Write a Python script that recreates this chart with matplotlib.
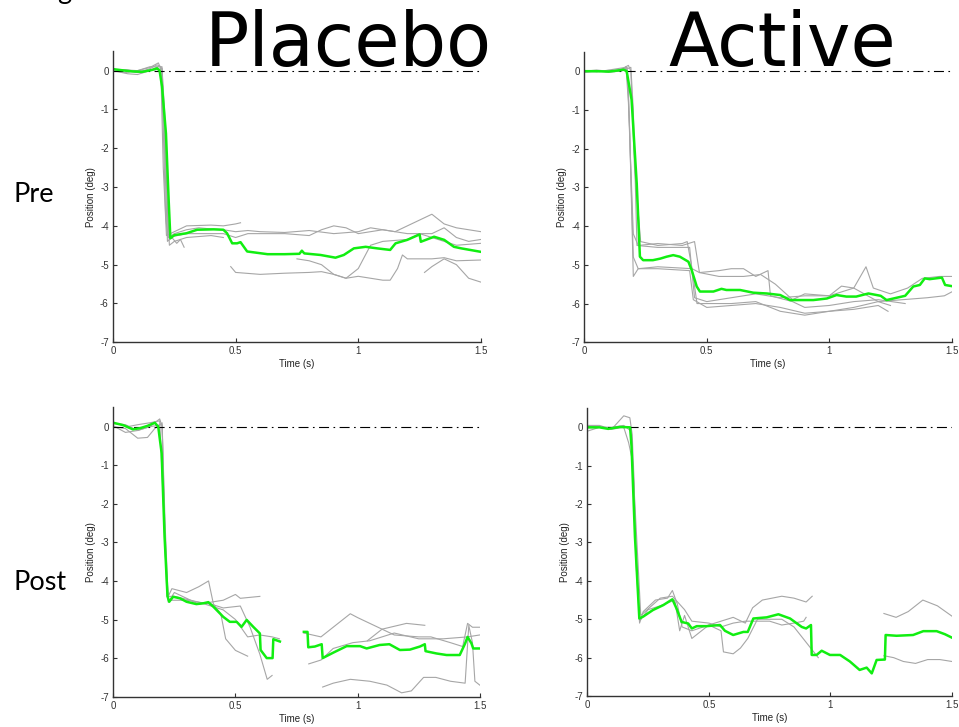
import numpy as np
import matplotlib
matplotlib.use('Agg')
import matplotlib.pyplot as plt

nan = np.nan

# column / row headings
col_titles = ['Placebo', 'Active']
row_titles = ['Pre', 'Post']
x_ticks = [0, 0.5, 1, 1.5]
x_ticklabels = ['0', '0.5', '1', '1.5']
y_ticks = [-7, -6, -5, -4, -3, -2, -1, 0]
y_ticklabels = ['-7', '-6', '-5', '-4', '-3', '-2', '-1', '0']

# mean eye position (time s, position deg)
pre_placebo_mean = [
    (0, 0.04), (0.05, 0.0), (0.08, -0.02), (0.12, -0.03), (0.16, 0.02), (0.18, 0.06),
    (0.19, 0.0), (0.2, -0.41), (0.216, -1.62), (0.227, -3.33), (0.234, -4.32), (0.25, -4.24),
    (0.3, -4.19), (0.343, -4.1), (0.41, -4.09), (0.45, -4.1), (0.465, -4.19), (0.486, -4.45),
    (0.506, -4.45), (0.52, -4.42), (0.547, -4.66), (0.63, -4.73), (0.7, -4.73), (0.76, -4.72),
    (0.77, -4.64), (0.78, -4.71), (0.846, -4.75), (0.907, -4.82), (0.941, -4.75), (0.982, -4.58),
    (1.03, -4.54), (1.077, -4.58), (1.13, -4.62), (1.152, -4.45), (1.2, -4.36), (1.25, -4.22),
    (1.255, -4.41), (1.309, -4.28), (1.35, -4.36), (1.39, -4.54), (1.42, -4.58), (1.5, -4.67)]

pre_active_mean = [
    (0, 0.0), (0.05, 0.0), (0.1, -0.01), (0.14, 0.02), (0.16, 0.04), (0.173, 0.0),
    (0.193, -0.74), (0.214, -2.9), (0.227, -4.79), (0.24, -4.88), (0.28, -4.88), (0.31, -4.84),
    (0.336, -4.79), (0.363, -4.75), (0.39, -4.79), (0.425, -4.92), (0.438, -5.13), (0.459, -5.56),
    (0.472, -5.69), (0.527, -5.69), (0.56, -5.62), (0.58, -5.65), (0.636, -5.65), (0.69, -5.72),
    (0.745, -5.74), (0.8, -5.78), (0.84, -5.91), (0.935, -5.91), (0.99, -5.87), (1.03, -5.78),
    (1.07, -5.82), (1.11, -5.82), (1.16, -5.74), (1.21, -5.8), (1.234, -5.91), (1.31, -5.8),
    (1.343, -5.56), (1.37, -5.52), (1.39, -5.35), (1.41, -5.37), (1.46, -5.33), (1.473, -5.52),
    (1.5, -5.55)]

post_placebo_mean = [
    (0, 0.1), (0.04, 0.04), (0.08, -0.07), (0.11, -0.04), (0.14, 0.02), (0.17, 0.1),
    (0.184, 0.0), (0.198, -0.69), (0.21, -2.85), (0.222, -4.4), (0.229, -4.54), (0.245, -4.41),
    (0.273, -4.45), (0.3, -4.54), (0.34, -4.6), (0.368, -4.58), (0.389, -4.55), (0.41, -4.67),
    (0.43, -4.8), (0.45, -4.93), (0.477, -5.06), (0.505, -5.06), (0.525, -5.19), (0.546, -5.01),
    (0.573, -5.19), (0.6, -5.36), (0.603, -5.79), (0.628, -6.0), (0.652, -6.0), (0.655, -5.51),
    (0.682, -5.57), (0.73, nan), (0.78, -5.32), (0.795, -5.32), (0.798, -5.72), (0.825, -5.7),
    (0.853, -5.64), (0.857, -6.0), (0.9, -5.86), (0.955, -5.69), (1.01, -5.69), (1.037, -5.75),
    (1.09, -5.66), (1.13, -5.64), (1.173, -5.79), (1.214, -5.78), (1.255, -5.7), (1.275, -5.64),
    (1.278, -5.82), (1.323, -5.88), (1.364, -5.92), (1.418, -5.92), (1.44, -5.62), (1.45, -5.45),
    (1.466, -5.62), (1.473, -5.75), (1.5, -5.75)]

post_active_mean = [
    (0, 0.0), (0.05, 0.0), (0.086, -0.04), (0.134, 0.01), (0.176, 0.0), (0.182, -0.5),
    (0.196, -2.85), (0.214, -4.98), (0.23, -4.93), (0.27, -4.76), (0.313, -4.63), (0.35, -4.48),
    (0.367, -4.72), (0.388, -5.07), (0.415, -5.11), (0.43, -5.24), (0.45, -5.18), (0.49, -5.18),
    (0.546, -5.15), (0.566, -5.3), (0.6, -5.41), (0.642, -5.33), (0.66, -5.33), (0.683, -4.98),
    (0.738, -4.95), (0.786, -4.87), (0.834, -4.98), (0.882, -5.2), (0.9, -5.24), (0.92, -5.15),
    (0.923, -5.93), (0.943, -5.93), (0.964, -5.82), (0.998, -5.93), (1.04, -5.93), (1.08, -6.1),
    (1.12, -6.32), (1.149, -6.26), (1.17, -6.41), (1.19, -6.06), (1.224, -6.05), (1.227, -5.41),
    (1.272, -5.43), (1.34, -5.41), (1.382, -5.31), (1.437, -5.31), (1.471, -5.39), (1.5, -5.48)]

# single trials
pre_placebo_trials = [
    [(0, 0.02), (0.05, 0.0), (0.1, -0.05), (0.15, 0.05), (0.18, 0.15), (0.195, 0.1), (0.205, -1.5),
     (0.215, -3.8), (0.225, -4.3), (0.25, -4.2), (0.3, -4.1), (0.35, -4.05), (0.4, -4.08),
     (0.45, -4.1), (0.5, -4.15), (0.55, -4.12), (0.6, -4.15), (0.7, -4.17), (0.8, -4.12),
     (0.9, -4.2), (1.0, -4.15), (1.05, -4.05), (1.1, -4.1), (1.15, -4.15), (1.2, -4.0),
     (1.25, -3.85), (1.3, -3.7), (1.35, -3.95), (1.4, -4.05), (1.45, -4.1), (1.5, -4.15)],
    [(0, 0.0), (0.06, -0.08), (0.1, -0.1), (0.15, 0.0), (0.19, 0.12), (0.2, 0.05), (0.21, -2.0),
     (0.222, -4.4), (0.24, -4.3), (0.26, -4.45), (0.275, -4.35), (0.29, -4.55)],
    [(0, 0.03), (0.05, 0.02), (0.1, 0.0), (0.15, 0.08), (0.185, 0.2), (0.195, 0.05), (0.205, -2.5),
     (0.218, -4.25), (0.25, -4.15), (0.3, -4.0), (0.4, -3.98), (0.45, -4.0), (0.5, -3.95),
     (0.52, -3.92)],
    [(0, 0.0), (0.05, -0.05), (0.1, 0.0), (0.15, 0.1), (0.2, 0.1), (0.215, -2.5), (0.23, -4.5),
     (0.25, -4.4), (0.3, -4.3), (0.4, -4.25), (0.45, -4.3), (0.47, nan), (0.48, -5.05),
     (0.5, -5.2), (0.6, -5.25), (0.7, -5.22), (0.8, -5.2), (0.85, -5.18), (0.9, -5.25),
     (0.95, -5.35), (1.0, -5.3), (1.05, -5.35), (1.1, -5.4), (1.13, -5.4), (1.16, -5.1),
     (1.18, -4.75), (1.2, -4.85), (1.3, -4.85), (1.35, -4.82), (1.4, -4.9), (1.5, -4.88)],
    [(0, 0.01), (0.05, 0.02), (0.1, -0.02), (0.15, 0.0), (0.2, 0.05), (0.21, -1.0), (0.225, -4.3),
     (0.3, -4.2), (0.45, -4.2), (0.5, -4.3), (0.55, -4.2), (0.7, -4.2), (0.8, -4.25),
     (0.85, -4.1), (0.9, -4.0), (0.95, -4.05), (1.0, -4.2), (1.1, -4.1), (1.2, -4.2), (1.3, -4.2),
     (1.35, -4.05), (1.4, -4.3), (1.45, -4.4), (1.5, -4.35)],
    [(0.75, -4.85), (0.8, -4.9), (0.85, -5.0), (0.9, -5.25), (0.95, -5.35), (1.0, -5.1),
     (1.05, -4.5), (1.1, -4.4), (1.2, -4.35), (1.25, -4.2), (1.3, -4.3), (1.4, -4.5),
     (1.5, -4.45)],
    [(1.27, -5.2), (1.3, -5.05), (1.35, -4.85), (1.4, -5.0), (1.45, -5.35), (1.5, -5.45)],
]

pre_active_trials = [
    [(0, 0.02), (0.05, -0.02), (0.1, 0.03), (0.15, 0.08), (0.175, 0.1), (0.185, -1.5),
     (0.2, -5.3), (0.22, -5.1), (0.3, -5.1), (0.43, -5.15), (0.445, -5.9), (0.5, -6.1),
     (0.6, -6.05), (0.7, -6.0), (0.8, -6.1), (0.9, -6.25), (1.0, -6.2), (1.1, -6.15),
     (1.2, -6.05), (1.24, -6.2)],
    [(0, 0.0), (0.05, 0.03), (0.1, 0.0), (0.15, 0.05), (0.18, 0.15), (0.19, 0.0), (0.205, -2.5),
     (0.23, -4.4), (0.3, -4.5), (0.4, -4.45), (0.42, -4.4), (0.44, -5.1), (0.47, -5.2),
     (0.55, -5.15), (0.6, -5.1), (0.65, -5.1), (0.7, -5.3), (0.75, -5.15), (0.76, -5.8),
     (0.85, -5.95), (0.9, -6.1), (1.0, -6.05), (1.1, -5.95), (1.2, -5.9), (1.31, -6.0)],
    [(0, -0.03), (0.05, 0.0), (0.1, -0.02), (0.15, 0.0), (0.19, 0.1), (0.2, -1.0), (0.215, -4.5),
     (0.3, -4.55), (0.43, -4.55), (0.45, -5.85), (0.5, -5.95), (0.6, -5.85), (0.7, -5.75),
     (0.8, -5.85), (0.9, -5.8), (1.0, -5.8), (1.1, -5.6), (1.15, -5.05), (1.18, -5.6),
     (1.25, -5.75), (1.32, -5.6), (1.38, -5.35), (1.45, -5.3), (1.5, -5.3)],
    [(0, 0.01), (0.05, 0.01), (0.1, -0.02), (0.15, 0.02), (0.17, 0.08), (0.18, -0.5),
     (0.2, -4.8), (0.22, -5.1), (0.3, -5.05), (0.44, -5.1), (0.46, -6.0), (0.6, -6.0),
     (0.7, -5.95), (0.8, -6.2), (0.9, -6.3), (1.0, -6.2), (1.1, -6.1), (1.2, -5.95),
     (1.3, -5.9), (1.4, -5.85), (1.47, -5.8), (1.5, -5.7)],
    [(0, 0.0), (0.05, 0.0), (0.1, 0.02), (0.15, 0.0), (0.17, 0.12), (0.18, -0.8), (0.2, -4.2),
     (0.22, -4.5), (0.3, -4.45), (0.4, -4.5), (0.45, -4.4), (0.47, -5.2), (0.55, -5.3),
     (0.65, -5.3), (0.72, -5.25), (0.78, -5.5), (0.85, -5.9), (0.9, -5.75), (1.0, -5.8),
     (1.05, -5.55), (1.1, -5.6), (1.2, -5.95), (1.25, -6.05)],
]

post_placebo_trials = [
    [(0, 0.08), (0.05, 0.05), (0.1, -0.1), (0.15, 0.0), (0.19, 0.2), (0.2, 0.0), (0.215, -3.5),
     (0.225, -4.4), (0.24, -4.2), (0.3, -4.3), (0.35, -4.15), (0.39, -4.0), (0.41, -4.6),
     (0.44, -4.85), (0.46, -5.5), (0.5, -5.8), (0.55, -5.95)],
    [(0, 0.0), (0.05, -0.05), (0.1, -0.3), (0.14, -0.28), (0.17, -0.05), (0.2, 0.1),
     (0.21, -3.0), (0.225, -4.55), (0.25, -4.3), (0.3, -4.45), (0.35, -4.6), (0.4, -4.55),
     (0.45, -4.5), (0.5, -4.35), (0.52, -4.45), (0.6, -4.4)],
    [(0, 0.1), (0.06, 0.0), (0.1, 0.05), (0.15, 0.1), (0.19, 0.15), (0.205, -2.0), (0.22, -4.4),
     (0.25, -4.4), (0.35, -4.55), (0.45, -4.75), (0.5, -5.0), (0.55, -5.45), (0.6, -5.4),
     (0.65, -5.45), (0.68, -5.5)],
    [(0, 0.02), (0.05, -0.15), (0.1, -0.1), (0.15, 0.0), (0.2, 0.05), (0.212, -2.5),
     (0.225, -4.5), (0.3, -4.5), (0.4, -4.6), (0.45, -4.7), (0.52, -4.65), (0.56, -5.2),
     (0.6, -5.9), (0.63, -6.55), (0.65, -6.45)],
    [(0.78, -5.35), (0.85, -5.45), (0.9, -5.2), (0.97, -4.85), (1.0, -4.95), (1.05, -5.1),
     (1.15, -5.4), (1.25, -5.45), (1.3, -5.45), (1.38, -5.6), (1.43, -5.7), (1.45, -5.1),
     (1.47, -5.2), (1.5, -5.2)],
    [(0.8, -6.15), (0.85, -6.05), (0.9, -5.75), (0.98, -5.6), (1.05, -5.55), (1.15, -5.35),
     (1.25, -5.5), (1.35, -5.5), (1.45, -5.45), (1.5, -5.4)],
    [(1.04, -5.55), (1.1, -5.25), (1.2, -5.1), (1.275, -5.15)],
    [(0.857, -6.75), (0.9, -6.65), (0.97, -6.55), (1.05, -6.6), (1.12, -6.7), (1.18, -6.9),
     (1.22, -6.85), (1.27, -6.5), (1.32, -6.5), (1.38, -6.6), (1.44, -6.65), (1.455, -5.15),
     (1.47, -5.6), (1.48, -6.6), (1.5, -6.7)],
]

post_active_trials = [
    [(0, 0.05), (0.05, 0.05), (0.1, -0.05), (0.15, 0.3), (0.175, 0.25), (0.185, -0.2),
     (0.2, -3.0), (0.215, -5.1), (0.23, -4.8), (0.28, -4.5), (0.33, -4.45), (0.35, -4.25),
     (0.37, -4.6), (0.39, -5.2), (0.43, -5.3), (0.5, -5.15), (0.55, -5.05), (0.6, -4.95),
     (0.65, -5.1), (0.68, -4.7), (0.72, -4.5), (0.8, -4.4), (0.85, -4.45), (0.9, -4.55),
     (0.925, -4.4)],
    [(0, -0.1), (0.05, 0.0), (0.1, -0.05), (0.15, 0.0), (0.17, -0.4), (0.19, -1.0),
     (0.2, -3.5), (0.215, -5.05), (0.25, -4.75), (0.3, -4.65), (0.36, -4.5), (0.38, -5.3),
     (0.4, -4.9), (0.43, -5.5), (0.5, -5.15), (0.55, -5.3), (0.56, -5.85), (0.6, -5.9),
     (0.63, -5.75), (0.66, -5.5), (0.7, -5.0), (0.8, -5.0), (0.85, -5.2), (0.9, -5.6),
     (0.95, -6.0), (0.97, nan), (1.22, -5.95), (1.26, -6.0), (1.3, -6.1), (1.35, -6.15),
     (1.4, -6.05), (1.45, -6.05), (1.5, -6.1)],
    [(0, 0.02), (0.1, 0.0), (0.15, 0.05), (0.18, -0.1), (0.2, -2.5), (0.22, -4.9),
     (0.3, -4.45), (0.35, -4.4), (0.4, -4.75), (0.43, -5.05), (0.5, -5.1), (0.55, -5.2),
     (0.6, -5.1), (0.65, -5.05), (0.75, -5.05), (0.8, -5.15), (0.85, -5.1), (0.89, -5.05),
     (0.9, -4.95), (0.92, nan), (1.22, -4.85), (1.27, -4.95), (1.32, -4.8), (1.38, -4.5),
     (1.44, -4.65), (1.5, -4.92)],
]

panels = [
    (pre_placebo_mean, pre_placebo_trials, [0.1178, 0.5292, 0.3837, 0.4003]),
    (pre_active_mean, pre_active_trials, [0.6093, 0.5292, 0.3831, 0.3995]),
    (post_placebo_mean, post_placebo_trials, [0.1181, 0.0417, 0.3822, 0.3980]),
    (post_active_mean, post_active_trials, [0.6124, 0.0426, 0.3803, 0.3960]),
]

plt.rcParams['font.family'] = ['Liberation Sans', 'DejaVu Sans']

fig = plt.figure(figsize=(9.59, 7.27), dpi=100)

for mean, trials, rect in panels:
    ax = fig.add_axes(rect)
    for tr in trials:
        t, y = zip(*tr)
        ax.plot(t, y, color='#a6a6a6', lw=0.8)
    ax.plot([0, 1.5], [0, 0], color='black', lw=0.8, ls=(0, (9, 4, 1.5, 4)))
    t, y = zip(*mean)
    ax.plot(t, y, color='#11ee11', lw=1.8)
    ax.set_xlim(0, 1.5)
    ax.set_ylim(-7, 0.5)
    ax.set_xticks(x_ticks)
    ax.set_xticklabels(x_ticklabels)
    ax.set_yticks(y_ticks)
    ax.set_yticklabels(y_ticklabels)
    for s in ['top', 'right']:
        ax.spines[s].set_visible(False)
    for s in ['left', 'bottom']:
        ax.spines[s].set_color('#333333')
        ax.spines[s].set_linewidth(1.0)
    ax.tick_params(direction='in', length=3, width=0.8, labelsize=7, colors='#333333', pad=3)
    ax.set_xlabel('Time (s)', fontsize=7, labelpad=2, color='#222222')
    ax.set_ylabel('Position (deg)', fontsize=7, labelpad=3, color='#222222')

title_font = dict(family=['DejaVu Sans'], fontsize=53, color='black')
fig.text(348 / 959, 1 - 66 / 727, col_titles[0], ha='center', va='baseline', **title_font)
fig.text(782 / 959, 1 - 66 / 727, col_titles[1], ha='center', va='baseline', **title_font)

row_font = dict(family=['Lato', 'DejaVu Sans'], fontsize=19.5, color='black')
fig.text(13 / 959, 1 - 194 / 727, row_titles[0], ha='left', va='center', **row_font)
fig.text(13 / 959, 1 - 582 / 727, row_titles[1], ha='left', va='center', **row_font)
fig.text(57 / 959, 1 + 1 / 727, 'g', ha='left', va='baseline', **row_font)

fig.savefig('out.png', dpi=100)
